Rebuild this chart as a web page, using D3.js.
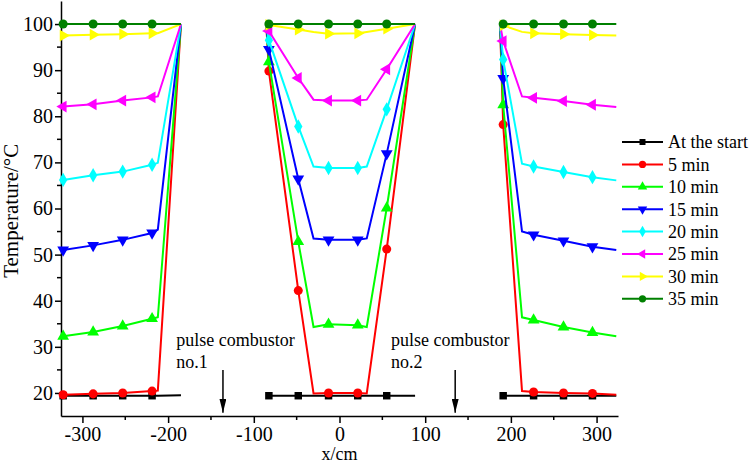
<!DOCTYPE html>
<html>
<head>
<meta charset="utf-8">
<script src="https://cdn.jsdelivr.net/npm/d3@7"></script>
<style>
  body { margin: 0; background: #fff; }
  svg text { font-family: "Liberation Serif", "Times New Roman", serif; fill: #000; }
</style>
</head>
<body>
<div id="chart"></div>
<script>
// x positions of the measuring points in the three sections (cm)
const leftX  = [-322.5, -287.5, -253, -218.7, -212, -185];
const midX   = [-85.5, -82.4, -48.1, -30.3, -12.8, 21.3, 31.8, 55.1, 88.2];
const rightX = [187.3, 191, 213, 226.5, 261.4, 295.2, 323];
// which points carry a marker
const leftMark  = [1, 1, 1, 1, 0, 0];
const midMark   = [0, 1, 1, 0, 1, 1, 0, 1, 0];
const rightMark = [0, 1, 0, 1, 1, 1, 0];

const seriesNames = ['At the start', '5 min', '10 min', '15 min', '20 min', '25 min', '30 min', '35 min'];

const leftY = [
  [19.4, 19.4, 19.4, 19.4, 19.4, 19.5],
  [19.6, 19.8, 20.0, 20.4, 20.5, 100],
  [32.3, 33.2, 34.5, 36.1, 36.4, 100],
  [51.0, 52.0, 53.2, 54.7, 55.4, 100],
  [66.2, 67.2, 68.0, 69.5, 69.9, 100],
  [82.1, 82.6, 83.4, 84.1, 84.3, 100],
  [97.5, 97.7, 97.8, 98.0, 98.0, 100],
  [100, 100, 100, 100, 100, 100]
];
const midY = [
  [19.4, 19.4, 19.4, 19.4, 19.4, 19.4, 19.4, 19.4, 19.4],
  [100, 89.8, 42.2, 19.9, 20.0, 20.0, 19.9, 51.2, 100],
  [100, 91.8, 52.8, 34.3, 34.9, 34.7, 34.3, 60.1, 100],
  [100, 94.5, 66.4, 53.5, 53.2, 53.2, 53.5, 71.9, 100],
  [100, 96.5, 77.8, 69.1, 68.8, 68.8, 69.1, 81.5, 100],
  [100, 98.5, 88.3, 83.6, 83.4, 83.4, 83.6, 90.2, 100],
  [100, 99.8, 98.8, 98.3, 97.9, 98.0, 98.3, 99.0, 100],
  [100, 100, 100, 100, 100, 100, 100, 100, 100]
];
const rightY = [
  [19.4, 19.4, 19.4, 19.4, 19.4, 19.4, 19.4],
  [100, 78.2, 20.4, 20.2, 20.0, 19.9, 19.6],
  [100, 82.5, 36.4, 35.8, 34.3, 33.1, 32.3],
  [100, 88.2, 55.0, 54.3, 53.0, 51.7, 51.0],
  [100, 92.3, 69.7, 69.1, 67.9, 66.8, 66.1],
  [100, 96.3, 84.3, 84.0, 83.3, 82.5, 82.0],
  [100, 99.7, 98.3, 98.0, 97.8, 97.6, 97.5],
  [100, 100, 100, 100, 100, 100, 100]
];

const xTickValues = [-300, -200, -100, 0, 100, 200, 300];
const yTickValues = [20, 30, 40, 50, 60, 70, 80, 90, 100];

// annotations: combustor positions (cm) and labels
const combustorX = [-136, 135];
const combustorLabels = [['pulse combustor', 'no.1'], ['pulse combustor', 'no.2']];
const labelX = [-190.5, 60];

const colors = ['#000000', '#ff0000', '#00ff00', '#0000ff', '#00ffff', '#ff00ff', '#ffff00', '#008000'];
const shapes = ['square', 'circle', 'up', 'down', 'diamond', 'left', 'right', 'circle'];

const width = 750, height = 466;
const margin = { top: 1, right: 132, bottom: 50, left: 61 };
const serif = '"Liberation Serif", "Times New Roman", serif';

const svg = d3.select('#chart').append('svg')
  .attr('width', width)
  .attr('height', height);

const x = d3.scaleLinear().domain([-325, 325]).range([margin.left, width - margin.right]);
const y = d3.scaleLinear().domain([15, 105]).range([height - margin.bottom, margin.top]);

function symbolPath(shape) {
  const sym = d3.symbol();
  if (shape === 'square') return sym.type(d3.symbolSquare).size(56)();
  if (shape === 'circle') return sym.type(d3.symbolCircle).size(64)();
  if (shape === 'diamond') return sym.type(d3.symbolDiamond).size(60)();
  return sym.type(d3.symbolTriangle).size(60)();
}
function symbolRotate(shape) {
  return { down: 180, left: -90, right: 90 }[shape] || 0;
}

// axes
const xAxis = svg.append('g')
  .attr('transform', `translate(0,${y(15)})`)
  .call(d3.axisBottom(x).tickValues(xTickValues).tickFormat(d => String(d)).tickSize(7).tickSizeOuter(0));
xAxis.append('g').selectAll('line')
  .data([-250, -150, -50, 50, 150, 250])
  .join('line')
  .attr('x1', d => x(d)).attr('x2', d => x(d))
  .attr('y1', 0).attr('y2', 4)
  .attr('stroke', '#000').attr('stroke-width', 1.5);

const yAxis = svg.append('g')
  .attr('transform', `translate(${x(-325)},0)`)
  .call(d3.axisLeft(y).tickValues(yTickValues).tickSize(6).tickSizeOuter(0));
yAxis.append('g').selectAll('line')
  .data([25, 35, 45, 55, 65, 75, 85, 95])
  .join('line')
  .attr('x1', 0).attr('x2', -4)
  .attr('y1', d => y(d)).attr('y2', d => y(d))
  .attr('stroke', '#000').attr('stroke-width', 1.5);

[xAxis, yAxis].forEach(a => {
  a.attr('font-family', serif).attr('font-size', 20);
  a.select('.domain').attr('stroke-width', 1.5);
  a.selectAll('.tick line').attr('stroke-width', 1.5);
  a.selectAll('.tick text')
    .style('font-family', serif)
    .style('font-size', '20px');
});
xAxis.selectAll('.tick text').attr('dy', '0.75em');
yAxis.selectAll('.tick text').attr('x', -8);

svg.append('text')
  .attr('x', x(0)).attr('y', 460)
  .attr('text-anchor', 'middle')
  .style('font-size', '18px')
  .text('x/cm');

svg.append('text')
  .attr('transform', `translate(18,${y(59.5)}) rotate(-90)`)
  .attr('text-anchor', 'middle')
  .style('font-size', '21px')
  .text('Temperature/°C');

// series
const line = d3.line().x(d => x(d[0])).y(d => y(d[1]));
const sections = [
  { xs: leftX, ys: leftY, marks: leftMark },
  { xs: midX, ys: midY, marks: midMark },
  { xs: rightX, ys: rightY, marks: rightMark }
];

seriesNames.forEach((name, i) => {
  const g = svg.append('g').attr('class', 'series');
  sections.forEach(sec => {
    const pts = sec.xs.map((xv, k) => [xv, sec.ys[i][k], sec.marks[k]]);
    g.append('path')
      .datum(pts)
      .attr('d', line)
      .attr('fill', 'none')
      .attr('stroke', colors[i])
      .attr('stroke-width', 2);
    g.selectAll(null)
      .data(pts.filter(p => p[2]))
      .join('path')
      .attr('d', symbolPath(shapes[i]))
      .attr('transform', d => `translate(${x(d[0])},${y(d[1])}) rotate(${symbolRotate(shapes[i])})`)
      .attr('fill', colors[i]);
  });
});

// combustor arrows and labels
svg.append('defs').append('marker')
  .attr('id', 'arrowhead')
  .attr('viewBox', '0 0 10 10')
  .attr('refX', 10).attr('refY', 5)
  .attr('markerWidth', 14).attr('markerHeight', 7)
  .attr('markerUnits', 'userSpaceOnUse')
  .attr('orient', 'auto')
  .attr('preserveAspectRatio', 'none')
  .append('path')
  .attr('d', 'M0,0L10,5L0,10Z')
  .attr('fill', '#000');

svg.selectAll('.arrow')
  .data(combustorX)
  .join('line')
  .attr('class', 'arrow')
  .attr('x1', d => x(d)).attr('x2', d => x(d))
  .attr('y1', y(25)).attr('y2', y(15.7))
  .attr('stroke', '#000')
  .attr('stroke-width', 1.5)
  .attr('marker-end', 'url(#arrowhead)');

combustorLabels.forEach((lines, i) => {
  lines.forEach((t, k) => {
    svg.append('text')
      .attr('x', x(labelX[i]))
      .attr('y', 346 + k * 22)
      .style('font-size', '18px')
      .text(t);
  });
});

// legend
const legend = svg.append('g').attr('transform', 'translate(622,142)');
seriesNames.forEach((name, i) => {
  const row = legend.append('g').attr('transform', `translate(0,${i * 22.4})`);
  row.append('line')
    .attr('x1', 0).attr('x2', 41)
    .attr('stroke', colors[i]).attr('stroke-width', 2);
  row.append('path')
    .attr('d', symbolPath(shapes[i]))
    .attr('transform', `translate(20.5,0) rotate(${symbolRotate(shapes[i])}) scale(0.8)`)
    .attr('fill', colors[i]);
  row.append('text')
    .attr('x', 46)
    .attr('dy', '0.35em')
    .style('font-size', '18px')
    .text(name);
});
</script>
</body>
</html>
